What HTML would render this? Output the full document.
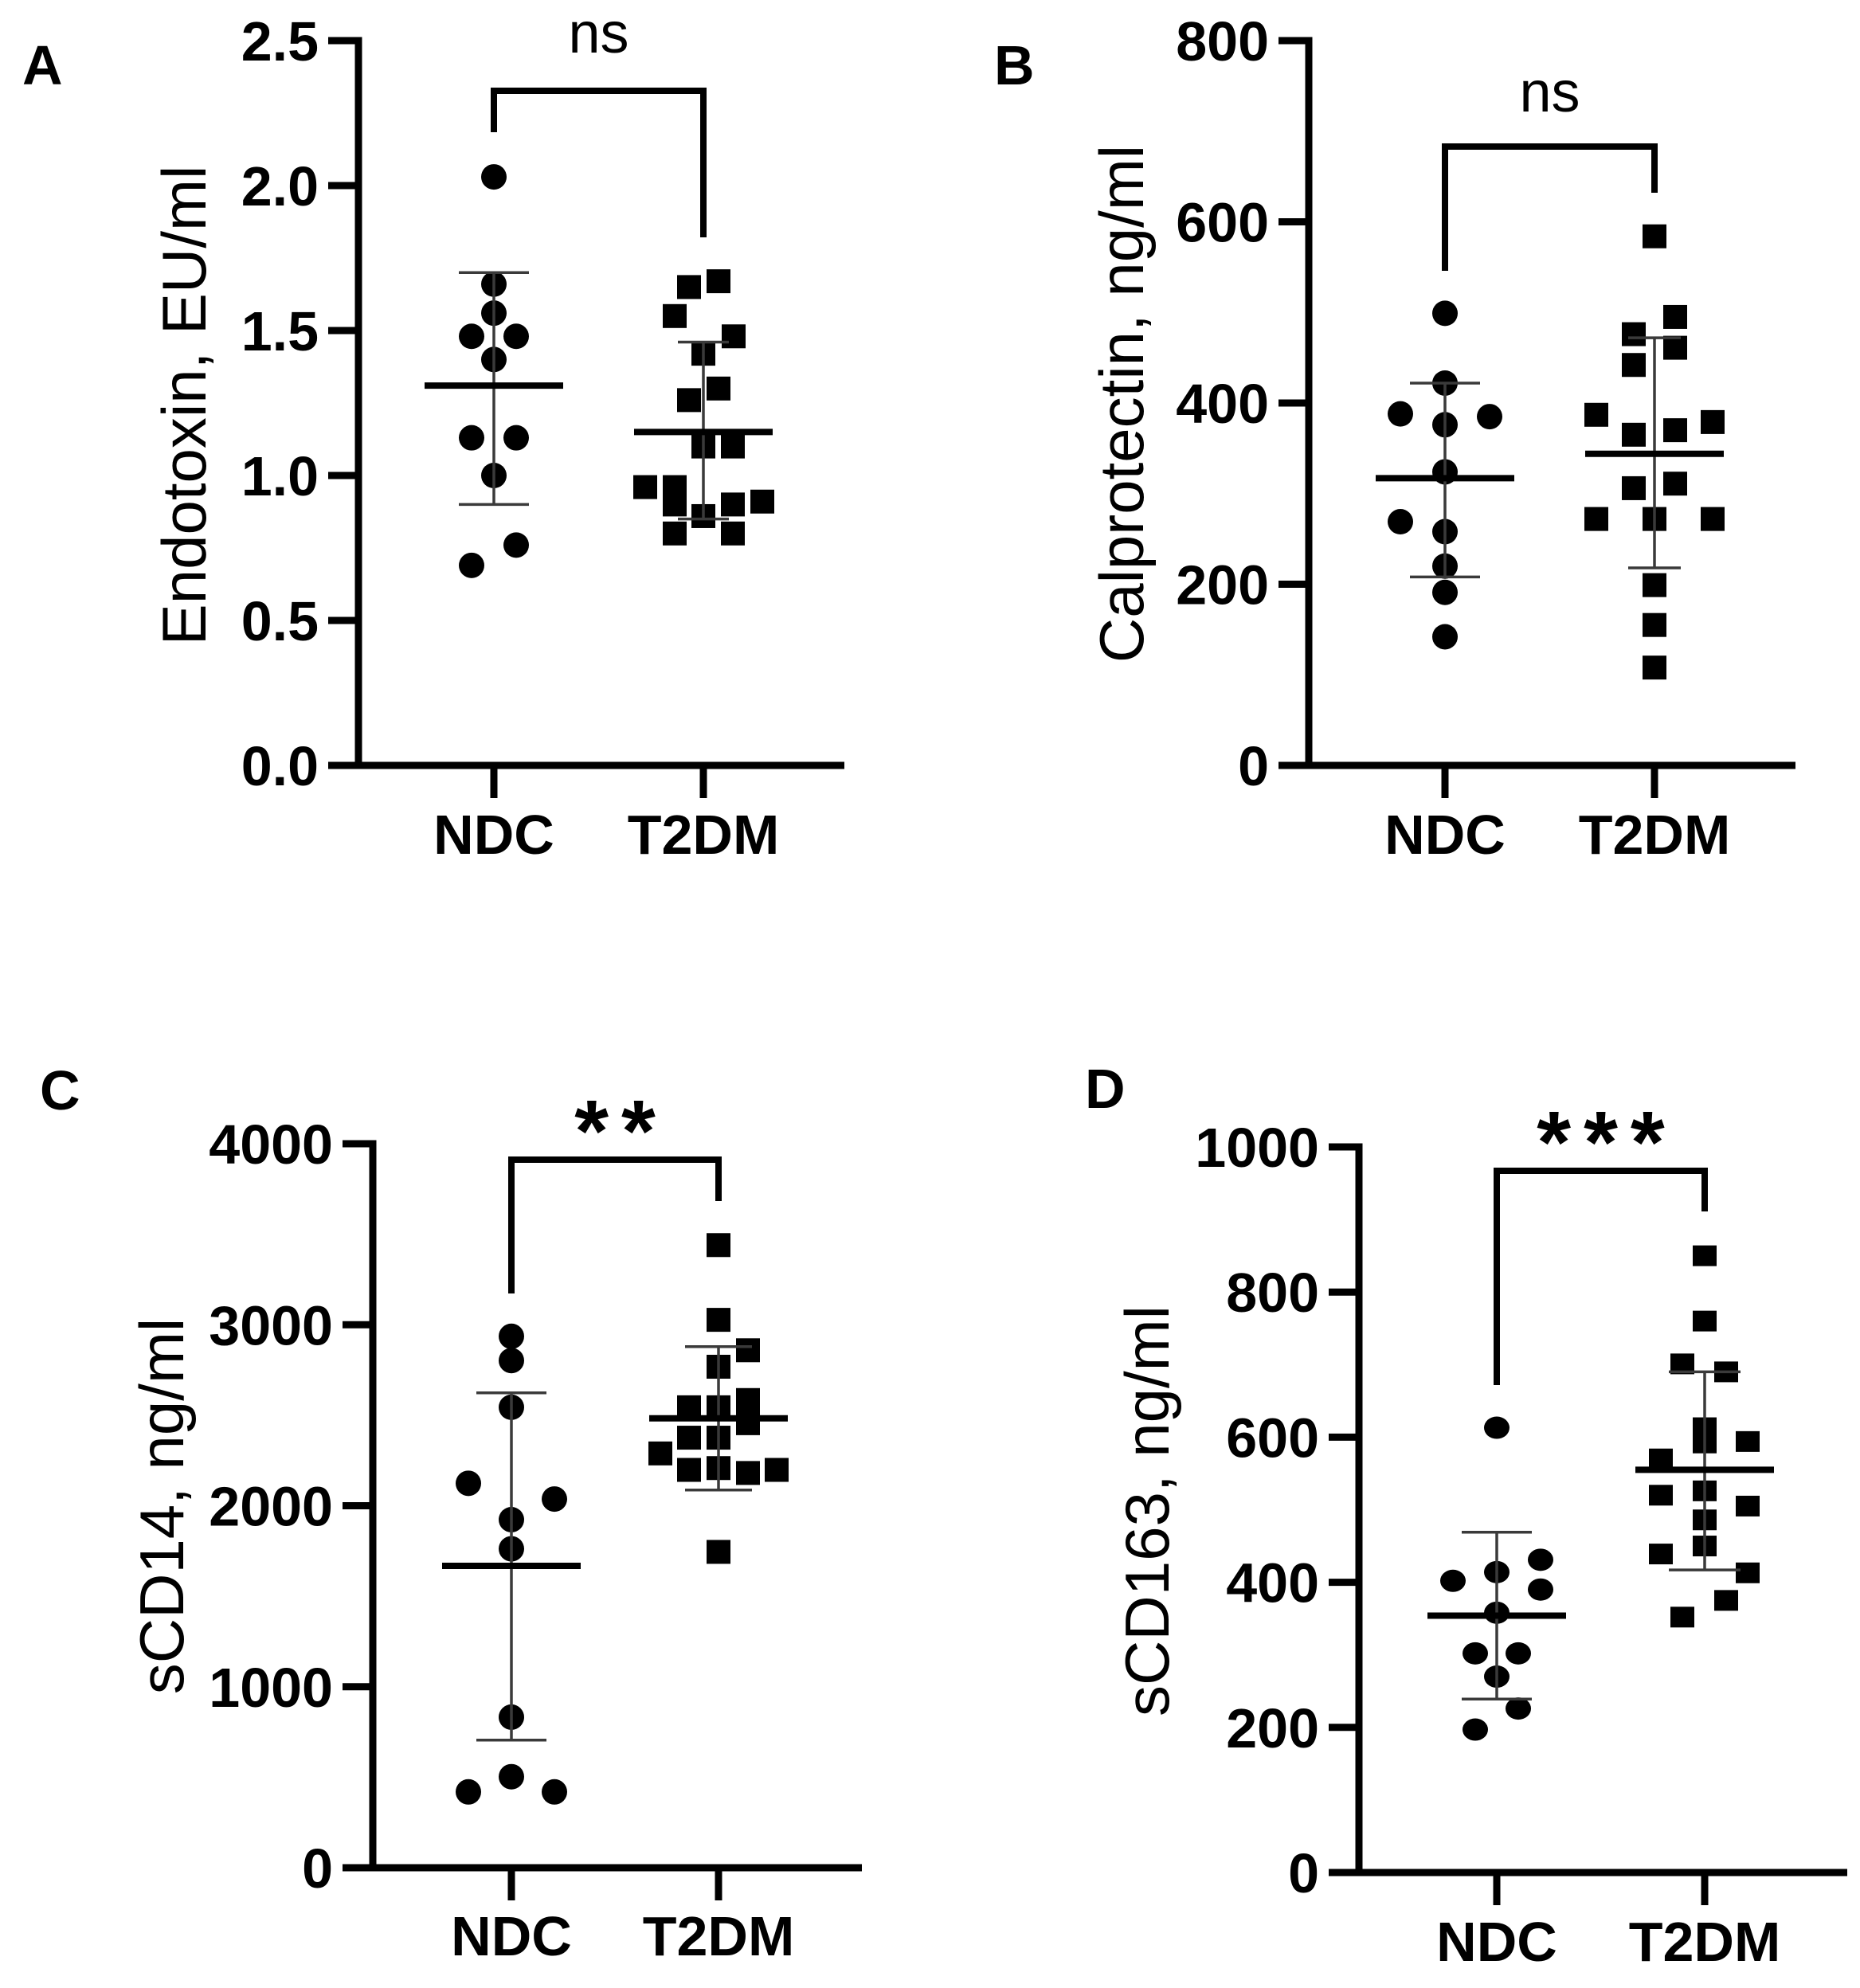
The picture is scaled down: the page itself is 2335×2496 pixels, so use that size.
<!DOCTYPE html>
<html><head><meta charset="utf-8"><style>
html,body{margin:0;padding:0;background:#fff}
svg{display:block}
text{font-family:"Liberation Sans",Arial,sans-serif;fill:#000}
</style></head><body>
<svg id="fig" xmlns="http://www.w3.org/2000/svg" width="2335" height="2496" viewBox="0 0 2335 2496"></svg>
<script>
// ---- Panel A: Endotoxin ----
const aTicks = [0, 0.5, 1.0, 1.5, 2.0, 2.5];
const aTickLabels = ["0.0", "0.5", "1.0", "1.5", "2.0", "2.5"];
const aNdc = [2.03, 1.66, 1.56, 1.48, 1.48, 1.40, 1.13, 1.13, 1.00, 0.76, 0.69];
const aNdcJitter = [0, 0, 0, -28, 28, 0, -28, 28, 0, 28, -28];
const aT2dm = [1.67, 1.65, 1.55, 1.48, 1.42, 1.30, 1.26, 1.10, 1.10, 0.96, 0.96, 0.90, 0.86, 0.90, 0.91, 0.80, 0.80];
const aT2dmJitter = [19, -18, -36, 38, 0, 19, -18, 0, 37, -73, -36, -36, 0, 37, 74, -36, 37];
const aNdcStats = [1.31, 1.70, 0.90];
const aT2dmStats = [1.15, 1.46, 0.85];
// ---- Panel B: Calprotectin ----
const bTicks = [0, 200, 400, 600, 800];
const bTickLabels = ["0", "200", "400", "600", "800"];
const bNdc = [499, 422, 388, 385, 376, 324, 269, 258, 220, 191, 142];
const bNdcJitter = [0, 0, -56, 56, 0, 0, -56, 0, 0, 0, 0];
const bT2dm = [584, 495, 476, 461, 442, 387, 379, 365, 370, 306, 311, 272, 272, 272, 199, 155, 108];
const bT2dmJitter = [0, 26, -26, 26, -26, -73, 73, -26, 26, -26, 26, -73, 0, 73, 0, 0, 0];
const bNdcStats = [317, 422, 208];
const bT2dmStats = [344, 472, 218];
// ---- Panel C: sCD14 ----
const cTicks = [0, 1000, 2000, 3000, 4000];
const cTickLabels = ["0", "1000", "2000", "3000", "4000"];
const cNdc = [2936, 2802, 2544, 2124, 2037, 1923, 1762, 832, 503, 419, 419];
const cNdcJitter = [0, 0, 0, -54, 54, 0, 0, 0, 0, -54, 54];
const cT2dm = [3440, 3027, 2859, 2768, 2544, 2544, 2584, 2456, 2376, 2376, 2289, 2198, 2208, 2181, 2198, 1745];
const cT2dmJitter = [0, 0, 37, 0, -37, 0, 37, 37, -37, 0, -73, -37, 0, 37, 73, 0];
const cNdcStats = [1668, 2624, 705];
const cT2dmStats = [2483, 2879, 2087];
// ---- Panel D: sCD163 ----
const dTicks = [0, 200, 400, 600, 800, 1000];
const dTickLabels = ["0", "200", "400", "600", "800", "1000"];
const dNdc = [613, 431, 402, 414, 390, 358, 302, 302, 270, 226, 197];
const dNdcJitter = [0, 55, -55, 0, 55, 0, -27, 27, 0, 27, -27];
const dT2dm = [850, 760, 701, 690, 613, 592, 594, 570, 520, 526, 505, 486, 450, 439, 413, 375, 352];
const dT2dmJitter = [0, 0, -28, 27, 0, 0, 54, -55, -55, 0, 54, 0, 0, -55, 54, 27, -28];
const dNdcStats = [354, 469, 239];
const dT2dmStats = [555, 690, 417];
const groups = ["NDC", "T2DM"];

const NS = "http://www.w3.org/2000/svg";
const svg = document.getElementById("fig");
function mk(tag, attrs, parent) {
  const e = document.createElementNS(NS, tag);
  for (const k in attrs) e.setAttribute(k, attrs[k]);
  (parent || svg).appendChild(e);
  return e;
}

function panel(cfg) {
  const g = mk("g", {});
  
  
  const y = v => cfg.y0 - (v - cfg.ticks[0]) / (cfg.ticks[cfg.ticks.length - 1] - cfg.ticks[0]) * (cfg.y0 - cfg.yTop);
  const gx = [cfg.xNdc, cfg.xT2];
  const L = mk("text", {x: cfg.letterX, y: cfg.letterY, "font-size": 70, "font-weight": "bold"}, g);
  L.textContent = cfg.letter;
  
  
  const ya = mk("line", {x1: cfg.ax, y1: y(cfg.ticks[cfg.ticks.length - 1]) - 4.5, x2: cfg.ax, y2: cfg.y0 + 4.5, stroke: "#000", "stroke-width": 9}, g);
  
  
  cfg.ticks.forEach((t, i) => {
    const ty = y(t);
    const tk = mk("line", {x1: cfg.ax - 38, y1: ty, x2: cfg.ax, y2: ty, stroke: "#000", "stroke-width": 9}, g);
    
    
    const tl = mk("text", {x: cfg.ax - 50, y: ty + 25, "font-size": 70, "font-weight": "bold", "text-anchor": "end"}, g);
    tl.textContent = cfg.tickLabels[i];
    
    
  });
  const xa = mk("line", {x1: cfg.ax - 38, y1: cfg.y0, x2: cfg.xNdc + 440, y2: cfg.y0, stroke: "#000", "stroke-width": 9}, g);
  
  
  groups.forEach((name, i) => {
    const tk = mk("line", {x1: gx[i], y1: cfg.y0, x2: gx[i], y2: cfg.y0 + 41, stroke: "#000", "stroke-width": 9}, g);
    
    
    const tl = mk("text", {x: gx[i], y: cfg.labelY, "font-size": 70, "font-weight": "bold", "text-anchor": "middle"}, g);
    tl.textContent = name;
    
    
  });
  const at = mk("text", {x: 0, y: 0, "font-size": 78, "text-anchor": "middle", transform: `translate(${cfg.titleX + 28},${cfg.titleY}) rotate(-90)`}, g);
  at.textContent = cfg.title;
  
  
  const br = mk("path", {d: `M${cfg.xNdc},${cfg.brL} V${cfg.brTop} H${cfg.xT2} V${cfg.brR}`, fill: "none", stroke: "#000", "stroke-width": 8}, g);
  
  
  const sig = mk("text", {x: (cfg.xNdc + cfg.xT2) / 2 + (cfg.sigSpacing || 0) / 2, y: cfg.sigY, "font-size": cfg.sigSize, "font-weight": cfg.sigBold ? "600" : "normal", "text-anchor": "middle", "letter-spacing": cfg.sigSpacing || 0}, g);
  sig.textContent = cfg.sig;
  
  
  const series = [[cfg.ndc, cfg.ndcJ, "circle"], [cfg.t2, cfg.t2J, "square"]];
  series.forEach((s, gi) => {
    s[0].forEach((v, i) => {
      const px = gx[gi] + s[1][i], py = y(v);
      let m;
      if (s[2] === "circle") {
        m = mk("ellipse", {cx: px, cy: py, rx: 16, ry: cfg.ry || 16, fill: "#000"}, g);
        
      } else {
        m = mk("rect", {x: px - 15, y: py - (cfg.sq || 15), width: 30, height: 2 * (cfg.sq || 15), fill: "#000"}, g);
        
      }
      
    });
  });
  [[cfg.ndcS, cfg.ndcCap], [cfg.t2S, cfg.t2Cap]].forEach((st, gi) => {
    const cx = gx[gi], s = st[0], cap = st[1];
    const eb = mk("path", {d: `M${cx},${y(s[1])} V${y(s[2])} M${cx - cap},${y(s[1])} H${cx + cap} M${cx - cap},${y(s[2])} H${cx + cap}`, fill: "none", stroke: "#3a3a3a", "stroke-width": 3.5}, g);
    
    
    const ml = mk("line", {x1: cx - 87, y1: y(s[0]), x2: cx + 87, y2: y(s[0]), stroke: "#000", "stroke-width": 8}, g);
    
    
  });
}

panel({id: "a", letter: "A", letterX: 28, letterY: 106, ticks: aTicks, tickLabels: aTickLabels,
  ax: 450, y0: 961, yTop: 51, xNdc: 620, xT2: 883, labelY: 1072,
  title: "Endotoxin, EU/ml", titleX: 230, titleY: 509,
  brTop: 114, brL: 166, brR: 298, sig: "ns", sigY: 66, sigSize: 72,
  ndc: aNdc, ndcJ: aNdcJitter, t2: aT2dm, t2J: aT2dmJitter, ndcS: aNdcStats, t2S: aT2dmStats, ndcCap: 44, t2Cap: 32});
panel({id: "b", letter: "B", letterX: 1248, letterY: 106, ticks: bTicks, tickLabels: bTickLabels,
  ax: 1643, y0: 961, yTop: 51, xNdc: 1814, xT2: 2077, labelY: 1072,
  title: "Calprotectin, ng/ml", titleX: 1407, titleY: 507,
  brTop: 184, brL: 340, brR: 242, sig: "ns", sigY: 140, sigSize: 72,
  ndc: bNdc, ndcJ: bNdcJitter, t2: bT2dm, t2J: bT2dmJitter, ndcS: bNdcStats, t2S: bT2dmStats, ndcCap: 44, t2Cap: 33});
panel({id: "c", letter: "C", letterX: 50, letterY: 1393, ticks: cTicks, tickLabels: cTickLabels,
  ax: 468, y0: 2345, yTop: 1436, xNdc: 642, xT2: 902, labelY: 2455,
  title: "sCD14, ng/ml", titleX: 202, titleY: 1891,
  brTop: 1456, brL: 1624, brR: 1508, sig: "**", sigY: 1458, sigSize: 110, sigBold: true, sigSpacing: 16,
  ndc: cNdc, ndcJ: cNdcJitter, t2: cT2dm, t2J: cT2dmJitter, ndcS: cNdcStats, t2S: cT2dmStats, ndcCap: 44, t2Cap: 42});
panel({id: "d", letter: "D", letterX: 1362, letterY: 1391, ticks: dTicks, tickLabels: dTickLabels,
  ax: 1706, y0: 2351, yTop: 1440, xNdc: 1879, xT2: 2140, labelY: 2462,
  title: "sCD163, ng/ml", titleX: 1439, titleY: 1897,
  brTop: 1470, brL: 1739, brR: 1521, sig: "***", sigY: 1472, sigSize: 110, sigBold: true, sigSpacing: 16,
  ry: 14, sq: 13,
  ndc: dNdc, ndcJ: dNdcJitter, t2: dT2dm, t2J: dT2dmJitter, ndcS: dNdcStats, t2S: dT2dmStats, ndcCap: 44, t2Cap: 45});
</script>
</body></html>
